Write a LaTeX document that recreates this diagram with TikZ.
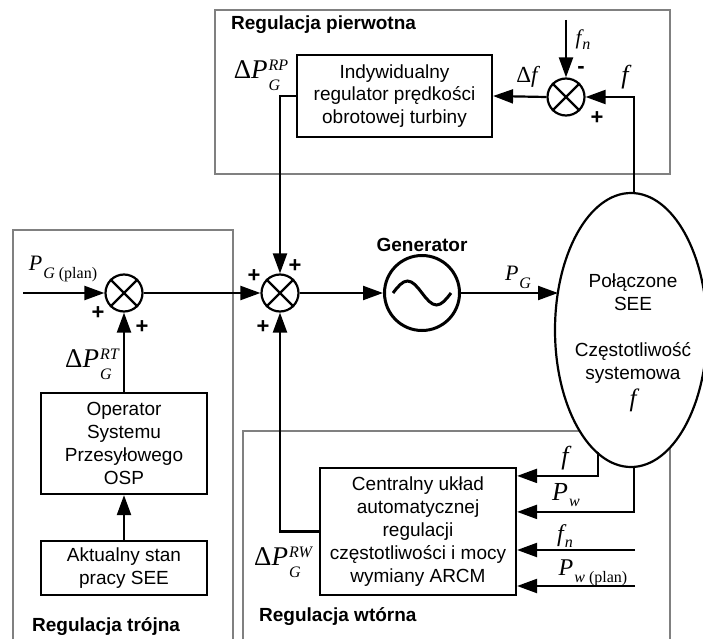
\documentclass[tikz,border=0pt]{standalone}
\usepackage{fontspec}
\setmainfont{Liberation Sans}
\newfontfamily\tms{Liberation Serif}
\usetikzlibrary{arrows.meta,calc,shapes.geometric}
\newcommand\mf[1]{\fontsize{#1}{#1}\selectfont}
\newcommand\dn[2]{\raisebox{-#1pt}{\mf{16}#2}}
\newcommand\up[2]{\raisebox{#1pt}{\mf{16}#2}}
\begin{document}
\begin{tikzpicture}[x=1pt,y=-1pt,
  conn/.style={line width=2.2pt,-{Triangle[length=20pt,width=14pt]}},
  block/.style={draw,line width=2.2pt,align=center,inner sep=0pt,font=\fontsize{19}{22.8}\selectfont},
  region/.style={draw=gray,line width=1.2pt},
  sumj/.style={circle,draw,line width=2.2pt,minimum size=37pt,inner sep=0pt},
  lab/.style={inner sep=0pt,font=\tms},
  plus/.style={inner sep=0pt,font=\bfseries\mf{22}},
  title/.style={inner sep=0pt,font=\bfseries\mf{19}},
  etext/.style={inner sep=0pt,align=center,font=\fontsize{19}{22.8}\selectfont}]
\useasboundingbox (0,0) rectangle (703,639);
% regions
\draw[region] (215,10) rectangle (670,174);
\draw[region] (13,639) -- (13,230) -- (233,230) -- (233,639);
\draw[region] (243,639) -- (243,431) -- (670,431) -- (670,639);
\node[title,anchor=west] (tp) at (231,25) {Regulacja pierwotna};
\node[title,anchor=west] (tt) at (32,627) {Regulacja trójna};
\node[title,anchor=west] (tw) at (259,617) {Regulacja wtórna};
% blocks
\node[block,minimum width=195pt,minimum height=82pt] (irp) at (394.5,96) {Indywidualny\\regulator prędkości\\obrotowej turbiny};
\node[sumj] (s3) at (566,97) {};
\node[sumj] (s1) at (124,293) {};
\node[sumj] (s2) at (280,293) {};
\node[circle,draw,line width=3pt,minimum size=75pt,inner sep=0pt] (gen) at (422,293) {};
\node[title] (gt) at (422,245) {Generator};
\node[ellipse,draw,fill=white,line width=2.2pt,minimum width=152pt,minimum height=274pt,inner sep=0pt] (ell) at (631,330) {};
\node[etext] (et1) at (633,292) {Połączone\\SEE};
\node[etext] (et2) at (633,363) {Częstotliwość\\systemowa};
\node[lab] (et3) at (633,400) {\mf{25}\itshape f};
\node[block,minimum width=166pt,minimum height=101pt] (osp) at (124,443.5) {Operator\\Systemu\\Przesyłowego\\OSP};
\node[block,minimum width=166pt,minimum height=54pt] (akt) at (124,568) {Aktualny stan\\pracy SEE};
\node[block,minimum width=196pt,minimum height=127pt] (arcm) at (418,531.5) {Centralny układ\\automatycznej\\regulacji\\częstotliwości i mocy\\wymiany ARCM};
% crosses
\foreach \s in {s1,s2,s3}
  \draw[line width=2.2pt] (\s.north west) -- (\s.south east) (\s.north east) -- (\s.south west);
% sine
\draw[line width=3pt] ($(gen)+(-29,0)$) sin ++(14.5,-12) cos ++(14.5,12) sin ++(14.5,12) cos ++(14.5,-12);
% connectors
\coordinate (fnin) at (566,20);
\draw[conn] (fnin) -- (s3.north);
\coordinate (etop) at (634,194);
\draw[conn] (etop) |- (s3.east);
\draw[conn] (s3.west) -- (irp.east);
\draw[conn] (irp.west) -| (s2.north);
\coordinate (pgin) at (23,293);
\draw[conn] (pgin) -- (s1.west);
\draw[conn] (s1.east) -- (s2.west);
\draw[conn] (s2.east) -- (gen.west);
\coordinate (ein) at (558,293);
\draw[conn] (gen.east) -- (ein);
\draw[conn] (osp.north) -- (s1.south);
\draw[conn] (akt.north) -- (osp.south);
\draw[conn] (arcm.west) -| (s2.south);
\coordinate (ebf) at (598,452);
\coordinate (ebp) at (634,466);
\draw[conn] (ebf) |- ($(arcm.north east)+(0,9)$);
\draw[conn] (ebp) |- ($(arcm.north east)+(0,45)$);
\coordinate (fnb) at (635,550);
\draw[conn] (fnb) -- (fnb -| arcm.east);
\coordinate (pwb) at (635,586);
\draw[conn] (pwb) -- (pwb -| arcm.east);
% labels
\node[lab] (lfn) at (583,40) {\mf{21}\itshape f\kern1pt\dn{5}{n}};
\node[lab] (ldf) at (527,77) {\mf{23}Δ\itshape f};
\node[lab] (lft) at (625,77) {\mf{26}\itshape f};
\node[plus] (m3) at (581,70) {-};
\node[plus] (p3) at (597,118) {+};
\node[lab] (lrp) at (261,75) {\mf{27}Δ\textit{P}\kern1pt\rlap{\dn{12}{\itshape G}}\up{8}{\itshape RP}};
\node[lab] (lpgp) at (63,269) {\mf{22}\textit{P}\kern1pt\dn{8}{\textit{G} (plan)}};
\node[lab] (lrt) at (92,364) {\mf{27}Δ\textit{P}\kern1pt\rlap{\dn{12}{\itshape G}}\up{8}{\itshape RT}};
\node[lab] (lpg) at (518,277) {\mf{22}\textit{P}\kern1pt\dn{8}{\itshape G}};
\node[lab] (lfb) at (565,458) {\mf{26}\itshape f};
\node[lab] (lpw) at (566,495) {\mf{26}\textit{P}\kern1pt\dn{6}{\itshape w}};
\node[lab] (lfnb) at (565,536) {\mf{24}\itshape f\kern1pt\dn{6}{n}};
\node[lab] (lpwp) at (593,573) {\mf{24}\textit{P}\kern1pt\dn{7}{\textit{w} (plan)}};
\node[lab] (lrw) at (283,562) {\mf{27}Δ\textit{P}\kern1pt\rlap{\dn{12}{\itshape G}}\up{8}{\itshape RW}};
\node[plus] (p1a) at (98,313) {+};
\node[plus] (p1b) at (142,327) {+};
\node[plus] (p2a) at (254,276) {+};
\node[plus] (p2b) at (295,266) {+};
\node[plus] (p2c) at (263,327) {+};
\end{tikzpicture}
\end{document}
